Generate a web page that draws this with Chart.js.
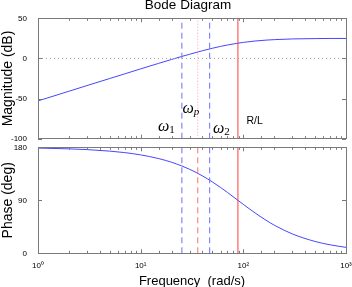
<!DOCTYPE html>
<html>
<head>
<meta charset="utf-8">
<script src="https://cdn.jsdelivr.net/npm/chart.js@4.4.1/dist/chart.umd.min.js"></script>
<style>
  body { margin: 0; background: #fff; }
  #wrap { position: relative; width: 352px; height: 287px; overflow: hidden; font-family: "Liberation Sans", Arial, sans-serif; }
  canvas { position: absolute; left: 0; }
  .lbl { position: absolute; white-space: nowrap; line-height: 1; color: #000; }
  .w { font-family: "Liberation Serif", "DejaVu Serif", serif; font-style: italic; font-size: 16px; }
  .w span { font-size: 11px; position: relative; top: 2px; }
  .w span.up { font-style: normal; }
</style>
</head>
<body>
<div id="wrap">
  <canvas id="mag" width="352" height="145" style="top:0"></canvas>
  <canvas id="phase" width="352" height="147" style="top:140px"></canvas>
  <div class="lbl" style="left:188px;top:-2px;font-size:13.5px;transform:translateX(-50%)">Bode Diagram</div>
  <div class="lbl w" style="left:158px;top:117.5px">ω<span class="up">1</span></div>
  <div class="lbl w" style="left:182.5px;top:100px">ω<span>p</span></div>
  <div class="lbl w" style="left:213px;top:120px">ω<span class="up">2</span></div>
  <div class="lbl" style="left:246.5px;top:114.5px;font-size:10.5px">R/L</div>
</div>
<script>
// frequency samples (rad/s) and the values
const freq     = [1, 2, 3, 5, 7, 10, 15, 20, 25, 30, 40, 50, 60, 70, 88.6, 100, 130, 170, 200, 300, 500, 700, 1000];
const magDb    = [-52.9, -40.9, -33.8, -25.0, -19.2, -13.0, -6.1, -1.3, 2.4, 5.2, 9.6, 12.7, 15.0, 16.7, 19.0, 20.0, 21.7, 22.9, 23.4, 24.3, 24.7, 24.9, 24.9];
const phaseDeg = [178.7, 177.4, 176.1, 173.5, 171.0, 167.1, 160.8, 154.6, 148.5, 142.6, 131.4, 121.1, 111.8, 103.4, 90.0, 83.1, 68.6, 55.1, 47.8, 32.9, 20.1, 14.4, 10.1];

// marker frequencies
const omega1 = 25.2;
const omegaP = 36;
const omega2 = 47;
const rOverL = 88.6;

const magRange = [-100, 50];
const phaseRange = [0, 180];
const freqRange = [1, 1000];
const decades = [1, 10, 100, 1000];
const sup = { 1: '\u2070', 10: '\u00b9', 100: '\u00b2', 1000: '\u00b3' };

Chart.defaults.font.family = '"Liberation Sans", Arial, sans-serif';
Chart.defaults.color = '#000';

const pts = (ys) => freq.map((f, i) => ({ x: f, y: ys[i] }));
const vline = (w, r) => [{ x: w, y: r[0] }, { x: w, y: r[1] }];

// box round the axes with inward tick marks, like the original
const framePlugin = {
  id: 'frame',
  afterDatasetsDraw(chart) {
    const { ctx, chartArea: a, scales: { x, y } } = chart;
    ctx.save();
    ctx.strokeStyle = '#7a7a7a';
    ctx.lineWidth = 1;
    ctx.beginPath();
    x.ticks.forEach(t => {
      const px = Math.round(x.getPixelForValue(t.value)) + 0.5;
      const lg = Math.log10(t.value);
      const len = Math.abs(lg - Math.round(lg)) < 1e-9 ? 4 : 2.5;
      ctx.moveTo(px, a.bottom); ctx.lineTo(px, a.bottom - len);
      ctx.moveTo(px, a.top); ctx.lineTo(px, a.top + len);
    });
    y.ticks.forEach(t => {
      const py = Math.round(y.getPixelForValue(t.value)) + 0.5;
      ctx.moveTo(a.left, py); ctx.lineTo(a.left + 4, py);
      ctx.moveTo(a.right, py); ctx.lineTo(a.right - 4, py);
    });
    ctx.stroke();
    ctx.strokeRect(Math.round(a.left) + 0.5, Math.round(a.top) + 0.5,
      Math.round(a.right - a.left), Math.round(a.bottom - a.top));
    ctx.restore();
  }
};

function xScale(showLabels, height) {
  return {
    type: 'logarithmic', min: freqRange[0], max: freqRange[1],
    grid: { display: false }, border: { display: false },
    ticks: {
      display: showLabels, autoSkip: false, maxRotation: 0, padding: 0,
      font: { size: 8 },
      callback: v => decades.includes(v) ? '10' + sup[v] : ''
    },
    title: { display: showLabels, text: 'Frequency  (rad/s)', font: { size: 13, lineHeight: 1 }, padding: { top: 0, bottom: -1 } },
    afterFit: s => { s.height = height; s.paddingLeft = 0; s.paddingRight = 0; }
  };
}

function yScale(range, step, label) {
  return {
    min: range[0], max: range[1],
    grid: { display: false }, border: { display: false },
    ticks: { stepSize: step, font: { size: 8 }, padding: 3 },
    title: { display: true, text: label, font: { size: 14 }, padding: 0 },
    afterFit: s => { s.width = 38; s.paddingTop = 0; s.paddingBottom = 0; }
  };
}

const common = {
  responsive: false,
  animation: false,
  plugins: { legend: { display: false }, tooltip: { enabled: false } },
  elements: { point: { radius: 0 }, line: { borderWidth: 1, fill: false } }
};

new Chart(document.getElementById('mag'), {
  type: 'line',
  data: {
    datasets: [
      { data: [{ x: freqRange[0], y: 0 }, { x: freqRange[1], y: 0 }], borderColor: '#a0a0a0', borderDash: [1, 3] },
      { data: vline(omega1, magRange), borderColor: 'rgb(110,110,255)', borderDash: [6, 4] },
      { data: vline(omegaP, magRange), borderColor: 'rgb(255,160,160)', borderDash: [1, 2] },
      { data: vline(omega2, magRange), borderColor: 'rgb(110,110,255)', borderDash: [6, 4] },
      { data: vline(rOverL, magRange), borderColor: 'rgb(255,60,60)' },
      { data: pts(magDb), borderColor: 'rgb(70,70,255)', cubicInterpolationMode: 'monotone' }
    ]
  },
  options: Object.assign({}, common, {
    layout: { padding: { top: 18.3, right: 6, bottom: 6.3, left: 0 } },
    scales: { x: xScale(false, 0), y: yScale(magRange, 50, 'Magnitude (dB)') }
  }),
  plugins: [framePlugin]
});

new Chart(document.getElementById('phase'), {
  type: 'line',
  data: {
    datasets: [
      { data: vline(omega1, phaseRange), borderColor: 'rgb(110,110,255)', borderDash: [6, 4] },
      { data: vline(omegaP, phaseRange), borderColor: 'rgb(255,110,110)', borderDash: [6, 4] },
      { data: vline(omega2, phaseRange), borderColor: 'rgb(110,110,255)', borderDash: [6, 4] },
      { data: vline(rOverL, phaseRange), borderColor: 'rgb(255,60,60)' },
      { data: pts(phaseDeg), borderColor: 'rgb(70,70,255)', cubicInterpolationMode: 'monotone' }
    ]
  },
  options: Object.assign({}, common, {
    layout: { padding: { top: 7.3, right: 6, bottom: 0, left: 0 } },
    scales: { x: xScale(true, 33.7), y: yScale(phaseRange, 90, 'Phase (deg)') }
  }),
  plugins: [framePlugin]
});
</script>
</body>
</html>
